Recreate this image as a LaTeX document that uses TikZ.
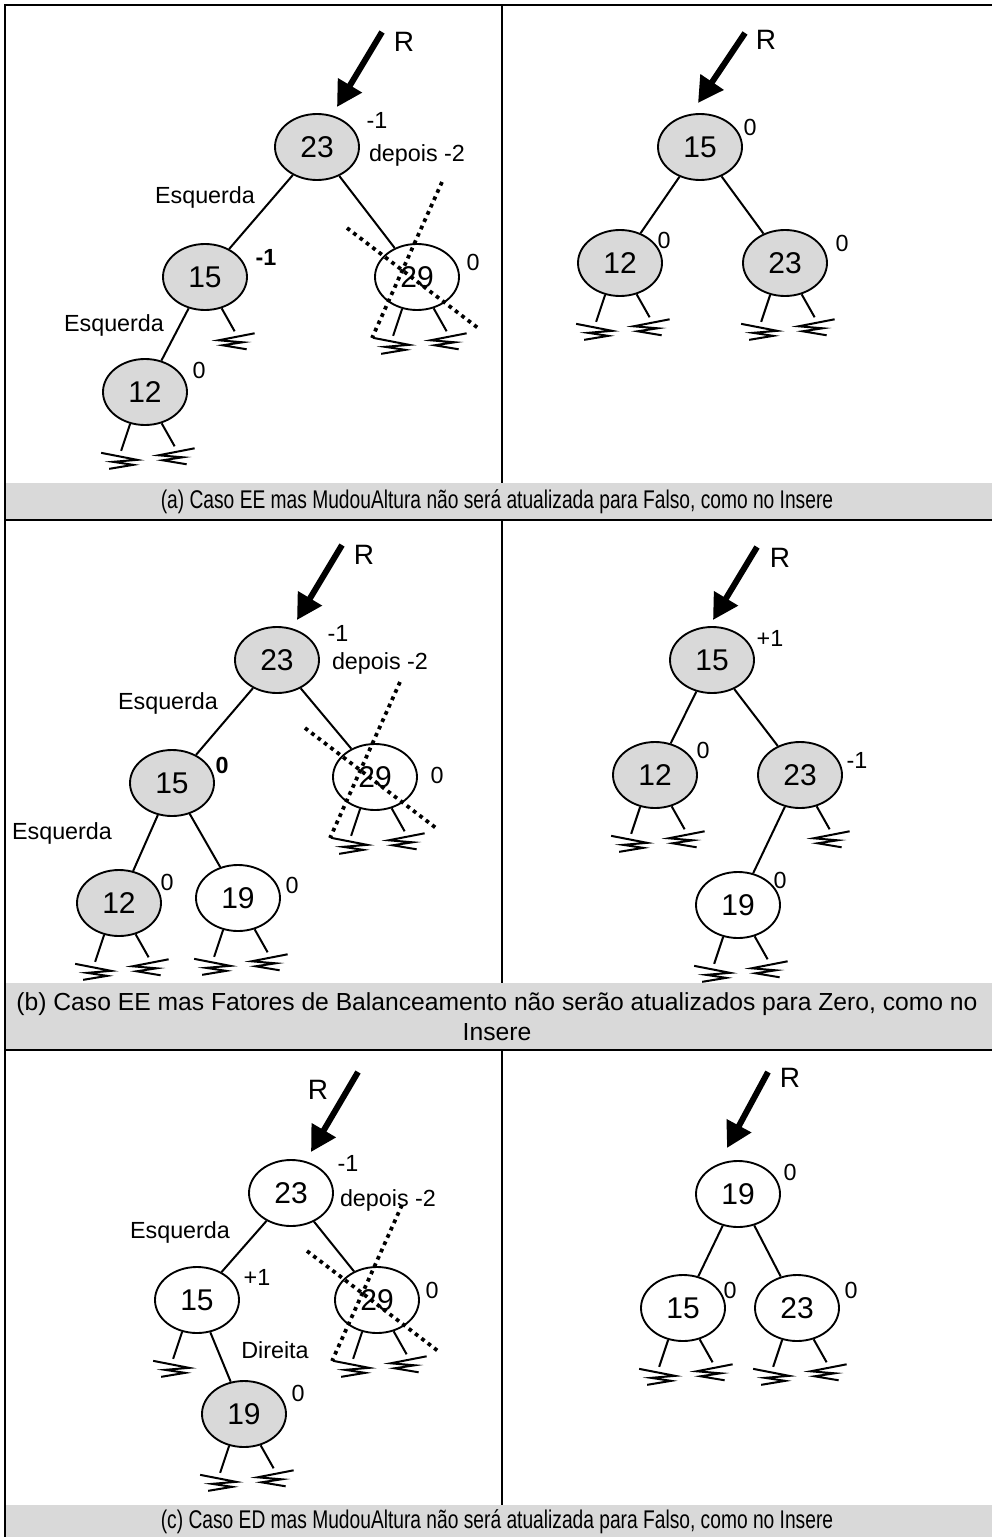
\documentclass[tikz,border=0pt]{standalone}
\usepackage{fontspec}
\setmainfont{Liberation Sans}
\newfontfamily\narrowfont[FakeStretch=0.75]{Liberation Sans}
\usetikzlibrary{shapes.geometric,arrows.meta}
\definecolor{nodegray}{RGB}{217,217,217}
\newcommand\nilleft[1]{\draw[edge] (#1.-115) -- ++(-9,27) coordinate (#1-l); \pic at (#1-l) {nilL};}
\newcommand\nilright[1]{\draw[edge] (#1.-62) -- ++(13,23) coordinate (#1-r); \pic at (#1-r) {nilR};}
\newcommand\cutnode[1]{%
  \draw[cut] ([shift={(25,-95)}]#1.center) -- ([shift={(-45,61)}]#1.center);
  \draw[cut] ([shift={(-70,-49)}]#1.center) -- ([shift={(61,51)}]#1.center);}

\begin{document}
\begin{tikzpicture}[x=0.75pt,y=-0.75pt,
  key/.style={ellipse,draw,line width=1.4pt,minimum width=63pt,minimum height=49.5pt,
    inner sep=0pt,font=\fontsize{22.5}{26}\selectfont},
  gkey/.style={key,fill=nodegray},
  wkey/.style={key,fill=white},
  edge/.style={line width=1.5pt},
  lab/.style={inner sep=0pt,font=\fontsize{17.5}{21}\selectfont},
  blab/.style={inner sep=0pt,font=\fontsize{17.5}{21}\selectfont\bfseries},
  rlab/.style={inner sep=0pt,font=\fontsize{21}{25}\selectfont},
  rootarrow/.style={line width=4.5pt,-{Triangle[length=19pt,width=20pt]}},
  cut/.style={line width=2.8pt,dash pattern=on 2.8pt off 3.2pt},
  rule/.style={line width=1.6pt},
  band/.style={fill=nodegray},
  caption/.style={inner sep=0pt,align=center,font=\narrowfont\fontsize{19.2}{23}\selectfont},
  widecaption/.style={inner sep=0pt,align=center,font=\fontsize{18.5}{22.5}\selectfont},
  nilL/.pic={\draw[edge] (-20,2) -- (16,9) -- (-8,11) -- (12,14) -- (-12,18);},
  nilR/.pic={\draw[edge] (20,2) -- (-16,9) -- (8,11) -- (-12,14) -- (12,18);}]
  \useasboundingbox (0,0) rectangle (992,1537);

  % table
  \fill[band] (5,483) rectangle (992,520);
  \fill[band] (5,983) rectangle (992,1050);
  \fill[band] (5,1505) rectangle (992,1545);
  \draw[rule] (5,1537) -- (5,5) -- (992,5);
  \draw[rule] (5,520) -- (992,520);
  \draw[rule] (5,1050) -- (992,1050);
  \draw[rule] (502,5) -- (502,483);
  \draw[rule] (502,520) -- (502,983);
  \draw[rule] (502,1050) -- (502,1505);

  % (a) before
  \coordinate (ra1) at (382,32);
  \coordinate (ta1) at (337,107);
  \draw[rootarrow] (ra1) -- (ta1);
  \node[rlab] (Ra1) at (404,42) {R};
  \node[gkey] (n23a) at (317,147) {23};
  \node[gkey] (n15a) at (205,277) {15};
  \node[wkey] (n29a) at (417,277) {29};
  \node[gkey] (n12a) at (145,392) {12};
  \draw[edge] (n23a) -- (n15a);
  \draw[edge] (n23a) -- (n29a);
  \draw[edge] (n15a) -- (n12a);
  \nilright{n15a}
  \nilleft{n12a} \nilright{n12a}
  \nilleft{n29a} \nilright{n29a}
  \cutnode{n29a}
  \node[lab] (fa23) at (377,120) {-1};
  \node[lab] (da23) at (417,155) {depois -2};
  \node[blab] (fa15) at (266,257) {-1};
  \node[lab] (fa29) at (473,262) {0};
  \node[lab] (fa12) at (199,370) {0};
  \node[lab] (ea1) at (205,197) {Esquerda};
  \node[lab] (ea2) at (114,325) {Esquerda};

  % (a) after
  \coordinate (rb1) at (745,33);
  \coordinate (tb1) at (698,103);
  \draw[rootarrow] (rb1) -- (tb1);
  \node[rlab] (Rb1) at (766,40) {R};
  \node[gkey] (m15a) at (700,147) {15};
  \node[gkey] (m12a) at (620,263) {12};
  \node[gkey] (m23a) at (785,263) {23};
  \draw[edge] (m15a) -- (m12a);
  \draw[edge] (m15a) -- (m23a);
  \nilleft{m12a} \nilright{m12a}
  \nilleft{m23a} \nilright{m23a}
  \node[lab] (fb15) at (750,127) {0};
  \node[lab] (fb12) at (664,240) {0};
  \node[lab] (fb23) at (842,243) {0};

  \node[caption] (capa) at (497,502) {(a) Caso EE mas MudouAltura não será atualizada para Falso, como no Insere};

  % (b) before
  \coordinate (ra2) at (342,545);
  \coordinate (ta2) at (297,620);
  \draw[rootarrow] (ra2) -- (ta2);
  \node[rlab] (Ra2) at (364,555) {R};
  \node[gkey] (n23b) at (277,660) {23};
  \node[gkey] (n15b) at (172,783) {15};
  \node[wkey] (n29b) at (375,777) {29};
  \node[gkey] (n12b) at (119,903) {12};
  \node[wkey] (n19b) at (238,898) {19};
  \draw[edge] (n23b) -- (n15b);
  \draw[edge] (n23b) -- (n29b);
  \draw[edge] (n15b) -- (n12b);
  \draw[edge] (n15b) -- (n19b);
  \nilleft{n12b} \nilright{n12b}
  \nilleft{n19b} \nilright{n19b}
  \nilleft{n29b} \nilright{n29b}
  \cutnode{n29b}
  \node[lab] (fc23) at (338,633) {-1};
  \node[lab] (dc23) at (380,663) {depois -2};
  \node[blab] (fc15) at (222,765) {0};
  \node[lab] (fc29) at (437,775) {0};
  \node[lab] (fc12) at (167,882) {0};
  \node[lab] (fc19) at (292,885) {0};
  \node[lab] (ec1) at (168,703) {Esquerda};
  \node[lab] (ec2) at (62,833) {Esquerda};

  % (b) after
  \coordinate (rb2) at (757,547);
  \coordinate (tb2) at (713,620);
  \draw[rootarrow] (rb2) -- (tb2);
  \node[rlab] (Rb2) at (780,558) {R};
  \node[gkey] (m15b) at (712,660) {15};
  \node[gkey] (m12b) at (655,775) {12};
  \node[gkey] (m23b) at (800,775) {23};
  \node[wkey] (m19b) at (738,905) {19};
  \draw[edge] (m15b) -- (m12b);
  \draw[edge] (m15b) -- (m23b);
  \draw[edge] (m23b) -- (m19b);
  \nilleft{m12b} \nilright{m12b}
  \nilright{m23b}
  \nilleft{m19b} \nilright{m19b}
  \node[lab] (fd15) at (770,638) {+1};
  \node[lab] (fd12) at (703,750) {0};
  \node[lab] (fd23) at (857,760) {-1};
  \node[lab] (fd19) at (780,880) {0};

  \node[widecaption] (capb) at (497,1017) {(b) Caso EE mas Fatores de Balanceamento não serão atualizados para Zero, como no\\Insere};

  % (c) before
  \coordinate (ra3) at (358,1072);
  \coordinate (ta3) at (311,1152);
  \draw[rootarrow] (ra3) -- (ta3);
  \node[rlab] (Ra3) at (318,1090) {R};
  \node[wkey] (n23c) at (291,1193) {23};
  \node[wkey] (n15c) at (197,1300) {15};
  \node[wkey] (n29c) at (377,1300) {29};
  \node[gkey] (n19c) at (244,1414) {19};
  \draw[edge] (n23c) -- (n15c);
  \draw[edge] (n23c) -- (n29c);
  \draw[edge] (n15c) -- (n19c);
  \nilleft{n15c}
  \nilleft{n19c} \nilright{n19c}
  \nilleft{n29c} \nilright{n29c}
  \cutnode{n29c}
  \node[lab] (fe23) at (348,1163) {-1};
  \node[lab] (de23) at (388,1200) {depois -2};
  \node[lab] (fe15) at (257,1277) {+1};
  \node[lab] (fe29) at (432,1290) {0};
  \node[lab] (fe19) at (298,1393) {0};
  \node[lab] (ee1) at (180,1232) {Esquerda};
  \node[lab] (de1) at (275,1350) {Direita};

  % (c) after
  \coordinate (rb3) at (768,1072);
  \coordinate (tb3) at (727,1148);
  \draw[rootarrow] (rb3) -- (tb3);
  \node[rlab] (Rb3) at (790,1078) {R};
  \node[wkey] (m19c) at (738,1194) {19};
  \node[wkey] (m15c) at (683,1308) {15};
  \node[wkey] (m23c) at (797,1308) {23};
  \draw[edge] (m19c) -- (m15c);
  \draw[edge] (m19c) -- (m23c);
  \nilleft{m15c} \nilright{m15c}
  \nilleft{m23c} \nilright{m23c}
  \node[lab] (ff19) at (790,1172) {0};
  \node[lab] (ff15) at (730,1290) {0};
  \node[lab] (ff23) at (851,1290) {0};

  \node[caption] (capc) at (497,1522) {(c) Caso ED mas MudouAltura não será atualizada para Falso, como no Insere};
\end{tikzpicture}
\end{document}
